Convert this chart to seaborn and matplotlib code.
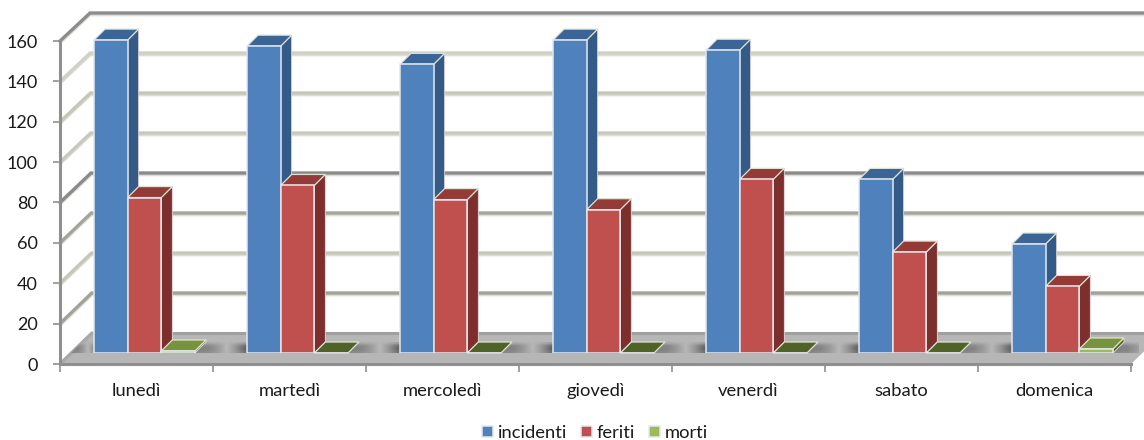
import matplotlib
matplotlib.use("Agg")
import matplotlib.pyplot as plt
from matplotlib.patches import Polygon
import numpy as np
import pandas as pd
import seaborn as sns

# Road accidents by day of the week
giorni = ["lunedì", "martedì", "mercoledì", "giovedì", "venerdì", "sabato", "domenica"]
incidenti = [155, 152, 143, 155, 150, 86, 54]
feriti = [77, 83, 76, 71, 86, 50, 33]
morti = [1, 0, 0, 0, 0, 0, 2]
tick_valori = [0, 20, 40, 60, 80, 100, 120, 140, 160]
griglia_colori = ["#a8a8a8", "#a2a29a", "#c6c6ba", "#a4a49c", "#8a8a8a",
                  "#c8c8bc", "#c6c6ba", "#d0d0c6", "#8c8c8c"]

W, H = 1144, 440
LEFT, RIGHT, Y0, Y160 = 60, 1131, 364, 41
PX_X = (RIGHT - LEFT) / 7
PX_Y = (Y0 - Y160) / 160


def box(left_px, zero_px):
    return [left_px / W, (H - zero_px) / H, (RIGHT - LEFT) / W, (Y0 - Y160) / H]


def back_wall(v):
    """Depth offset of the back wall at height v; it narrows slightly towards the top."""
    return (32 - 2 * v / 160) / PX_X, (31 - 3 * v / 160) / PX_Y


sns.set_theme(style="white")
plt.rcParams["font.family"] = ["Lato", "DejaVu Sans"]
plt.rcParams["text.color"] = "#1a1a1a"

fig = plt.figure(figsize=(W / 100, H / 100), dpi=100, facecolor="white")

# Front plane carries the scales; the bars live on a parallel plane set back from it.
ax = fig.add_axes(box(LEFT, Y0))
ax.set_xlim(-0.5, 6.5)
ax.set_ylim(0, 160)
ax.patch.set_alpha(0)
ax_bars = fig.add_axes(box(LEFT + 8, Y0 - 11), zorder=2)

bar_dx, bar_dy = 11 / PX_X, 11 / PX_Y
floor_dx, floor_dy = back_wall(0)

floor = Polygon([(-0.5, 0), (6.5, 0), (6.5 + floor_dx, floor_dy), (-0.5 + floor_dx, floor_dy)],
                closed=True, fc="#b6b6b6", ec="none", clip_on=False, zorder=1)
ax.add_patch(floor)
ax.plot([-0.5 + floor_dx, 6.5 + floor_dx], [floor_dy, floor_dy], color="#a0a0a0", lw=2.2,
        clip_on=False, zorder=1.1)

for v, c in zip(tick_valori[1:], griglia_colori[1:]):
    dx, dy = back_wall(v)
    xs = [-0.5, -0.5 + dx, 6.5 + dx]
    ys = [v, v + dy, v + dy]
    ax.plot(xs, [y - 0.9 for y in ys], color="#deded2", lw=2.2, clip_on=False, zorder=0.9,
            solid_joinstyle="miter")
    ax.plot(xs, ys, color=c, lw=2.4, clip_on=False, zorder=1, solid_joinstyle="miter")
ax.plot([-0.5, -0.5 + floor_dx], [0, floor_dy], color="#a8a8a8", lw=2.4, clip_on=False, zorder=1.2)

ax.set_xticks(np.arange(-0.5, 7.5, 1))
ax.set_xticklabels([])
ax.set_xticks(np.arange(7), labels=giorni, minor=True)
ax.set_yticks(tick_valori)
ax.tick_params(axis="x", which="major", length=6, width=1.2, color="#8f8f8f", direction="out", bottom=True)
ax.tick_params(axis="x", which="minor", length=0, pad=14, labelsize=13.2, labelcolor="#1a1a1a")
ax.tick_params(axis="y", length=5, width=1.2, color="#8f8f8f", direction="out", pad=11,
               labelsize=13, labelcolor="#1a1a1a", left=True)
for side in ("top", "right"):
    ax.spines[side].set_visible(False)
for side in ("left", "bottom"):
    ax.spines[side].set_color("#8f8f8f")
    ax.spines[side].set_linewidth(2.2)

serie_nomi = ["incidenti", "feriti", "morti"]
df = pd.DataFrame({"giorno": giorni, "incidenti": incidenti, "feriti": feriti, "morti": morti})
lungo = df.melt(id_vars="giorno", var_name="serie", value_name="valore")

palette = {"incidenti": "#4f81bd", "feriti": "#c0504d", "morti": "#9bbb59"}
sns.barplot(data=lungo, x="giorno", y="valore", hue="serie", hue_order=serie_nomi,
            palette=palette, saturation=1, width=0.66, gap=0, dodge=True, ax=ax_bars,
            edgecolor="#e4e8ee", linewidth=1.1, zorder=2, legend=True, errorbar=None)

facce = {"incidenti": ("#345a87", "#3b6597"), "feriti": ("#7d2f2d", "#943a37"), "morti": ("#4f6228", "#77933c")}
for nome, gruppo in zip(serie_nomi, ax_bars.containers):
    lato, cima = facce[nome]
    for barra in gruppo:
        x0 = barra.get_x()
        x1 = x0 + barra.get_width()
        h = barra.get_height()
        if h > 0:
            ax_bars.add_patch(Polygon([(x1, 0), (x1 + bar_dx, bar_dy), (x1 + bar_dx, h + bar_dy), (x1, h)],
                                      closed=True, fc=lato, ec="#e8dcdc", lw=0.6, clip_on=False, zorder=1))
        colore = cima if (h > 0 or nome != "morti") else "#4f6228"
        ax_bars.add_patch(Polygon([(x0, h), (x1, h), (x1 + bar_dx, h + bar_dy), (x0 + bar_dx, h + bar_dy)],
                                  closed=True, fc=colore, ec="#dfe3d4", lw=0.9, clip_on=False, zorder=1.5))

# Soft shadow on the floor between one group of bars and the next
ombra_x = np.array([0.50, 0.52, 0.60, 0.72, 0.58, 0.40, 0.32])
sfuma_y = np.array([0.25, 0.85, 1.0, 1.0, 0.85])[:, None]
ombra = 0.71 + (ombra_x[None, :] - 0.71) * sfuma_y
for i in range(-1, 7):
    x_start = max(i + 0.33, -0.48)
    x_end = i + 0.67 + bar_dx
    img = ax_bars.imshow(ombra, cmap="gray", vmin=0, vmax=1, aspect="auto", interpolation="bilinear",
                         extent=(x_start, x_end, 0, bar_dy), zorder=0.5, clip_on=True)
    bordo = Polygon([(x_start, 0), (x_end, 0), (x_end + bar_dx, bar_dy), (x_start + bar_dx, bar_dy)],
                    closed=True, transform=ax_bars.transData)
    img.set_clip_path(bordo)

ax_bars.set_xlim(-0.5, 6.5)
ax_bars.set_ylim(0, 160)
ax_bars.axis("off")

handles, labels = ax_bars.get_legend_handles_labels()
ax_bars.get_legend().remove()
fig.legend(handles, labels, loc="center", bbox_to_anchor=(595 / W, 1 - 433 / H), ncol=3, frameon=False,
           fontsize=13.2, handlelength=0.62, handleheight=0.62, handletextpad=0.25, columnspacing=0.75,
           borderpad=0)

fig.savefig("out.png", dpi=100, facecolor="white")
